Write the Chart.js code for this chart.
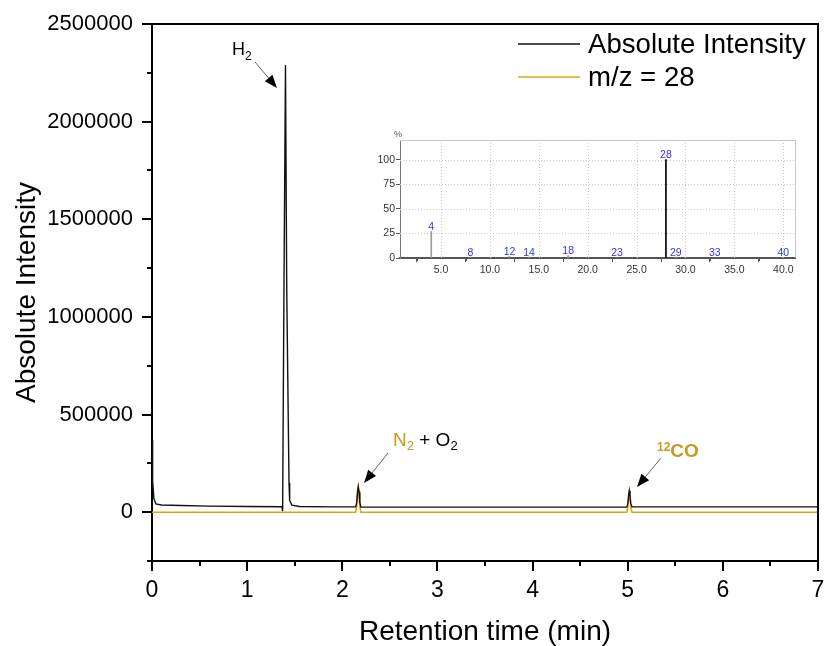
<!DOCTYPE html>
<html><head><meta charset="utf-8">
<script src="https://cdn.jsdelivr.net/npm/chart.js@4.4.1/dist/chart.umd.min.js"></script>
<style>
html,body{margin:0;padding:0;background:#fff;}
#wrap{position:relative;width:825px;height:646px;overflow:hidden;}
#main{position:absolute;left:0;top:0;}
#inset{position:absolute;left:370px;top:125px;}
</style></head><body>
<div id="wrap"><canvas id="main" width="825" height="646"></canvas><canvas id="inset" width="430" height="160"></canvas></div>
<script>
const FONT = '"Liberation Sans", Arial, Helvetica, sans-serif';

// ---- Main chromatogram ----
const seriesLabels = ['Absolute Intensity', 'm/z = 28'];
const timeTotal = [0, 0.003, 0.01, 0.02, 0.04, 0.1, 0.3, 0.6, 1.0, 1.365, 1.373, 1.387, 1.403, 1.416, 1.44, 1.447, 1.47, 1.55, 1.9, 2.14, 2.152, 2.16, 2.168, 2.176, 2.184, 2.196, 2.6, 3.5, 4.5, 4.99, 5.002, 5.01, 5.017, 5.024, 5.032, 5.045, 5.5, 6.5, 7.0];
const intensityTotal = [370000, 300000, 160000, 70000, 42000, 37000, 34000, 31000, 29000, 28000, 5000, 1150000, 2290000, 1150000, 150000, 60000, 36000, 29000, 27000, 27000, 50000, 105000, 130000, 105000, 50000, 26000, 26000, 26000, 26000, 26000, 45000, 90000, 110000, 90000, 45000, 27000, 27000, 27000, 27000];
const timeMz28 = [0, 2.14, 2.152, 2.16, 2.168, 2.176, 2.184, 2.196, 4.99, 5.002, 5.01, 5.017, 5.024, 5.032, 5.045, 7.0];
const intensityMz28 = [0, 0, 30000, 95000, 127000, 95000, 30000, 0, 0, 25000, 80000, 105000, 80000, 25000, 0, 0];
const xTickValues = [0, 1, 2, 3, 4, 5, 6, 7];
const yTickValues = [0, 500000, 1000000, 1500000, 2000000, 2500000];

// ---- Inset mass spectrum ----
const msMass = [4, 8, 12, 14, 18, 23, 28, 29, 33, 40];
const msPercent = [27, 1, 1.8, 1, 2.5, 0.5, 100, 1, 0.5, 0.5];
const msXTicks = [5, 10, 15, 20, 25, 30, 35, 40];
const msYTicks = [0, 25, 50, 75, 100];

const BLACK = '#111111';
const GOLD = '#dfa415';
const GOLD_TEXT = '#c89a1c';

function pts(xs, ys) { return xs.map((x, i) => ({ x: x, y: ys[i] })); }

function drawRich(ctx, segs, x, y) {
  let cx = x;
  segs.forEach(s => {
    ctx.font = (s.bold ? 'bold ' : '') + s.size + 'px ' + FONT;
    ctx.fillStyle = s.color;
    ctx.textBaseline = 'alphabetic';
    ctx.textAlign = 'left';
    ctx.fillText(s.text, cx, y + (s.dy || 0));
    cx += ctx.measureText(s.text).width;
  });
}
function drawArrow(ctx, x1, y1, x2, y2) {
  const ang = Math.atan2(y2 - y1, x2 - x1);
  const L = 13, W = 5;
  ctx.save();
  ctx.strokeStyle = '#666';
  ctx.lineWidth = 1;
  ctx.beginPath();
  ctx.moveTo(x1, y1);
  ctx.lineTo(x2 - Math.cos(ang) * L * 0.8, y2 - Math.sin(ang) * L * 0.8);
  ctx.stroke();
  ctx.fillStyle = '#000';
  ctx.beginPath();
  ctx.moveTo(x2, y2);
  ctx.lineTo(x2 - Math.cos(ang) * L - Math.sin(ang) * W, y2 - Math.sin(ang) * L + Math.cos(ang) * W);
  ctx.lineTo(x2 - Math.cos(ang) * L + Math.sin(ang) * W, y2 - Math.sin(ang) * L - Math.cos(ang) * W);
  ctx.closePath();
  ctx.fill();
  ctx.restore();
}

const mainDecor = {
  id: 'mainDecor',
  afterDraw(chart) {
    const ctx = chart.ctx, a = chart.chartArea;
    const xs = chart.scales.x, ys = chart.scales.y;
    ctx.save();
    ctx.strokeStyle = '#000';
    ctx.lineWidth = 2;
    ctx.beginPath();
    ctx.moveTo(a.left, a.top); ctx.lineTo(a.right, a.top); ctx.lineTo(a.right, a.bottom);
    ctx.stroke();
    ctx.lineWidth = 2;
    ctx.beginPath();
    for (let i = 0; i < xTickValues.length - 1; i++) {
      const px = Math.round(xs.getPixelForValue((xTickValues[i] + xTickValues[i + 1]) / 2));
      ctx.moveTo(px, a.bottom); ctx.lineTo(px, a.bottom + 5);
    }
    const ystep = yTickValues[1] - yTickValues[0];
    const minors = [];
    for (let i = 0; i < yTickValues.length - 1; i++) minors.push((yTickValues[i] + yTickValues[i + 1]) / 2);
    minors.push(yTickValues[0] - ystep / 2);
    minors.forEach(v => {
      if (v < ys.min || v > ys.max) return;
      const py = Math.round(ys.getPixelForValue(v));
      ctx.moveTo(a.left, py); ctx.lineTo(a.left - 5, py);
    });
    ctx.stroke();

    const ds = chart.data.datasets;
    const rows = [44, 77];
    ds.forEach((d, i) => {
      ctx.strokeStyle = d.borderColor;
      ctx.lineWidth = 1.5;
      ctx.beginPath();
      ctx.moveTo(518, rows[i]); ctx.lineTo(580, rows[i]);
      ctx.stroke();
      ctx.fillStyle = '#000';
      ctx.font = '27.6px ' + FONT;
      ctx.textBaseline = 'middle';
      ctx.textAlign = 'left';
      ctx.fillText(d.label, 588, rows[i] + 1);
    });

    drawRich(ctx, [{ text: 'H', size: 18, color: '#000' }, { text: '2', size: 12, dy: 5, color: '#000' }], 232, 55);
    drawArrow(ctx, 255, 62, 277, 88);
    drawRich(ctx, [{ text: 'N', size: 19, color: GOLD_TEXT }, { text: '2', size: 13, dy: 4, color: GOLD_TEXT },
                   { text: ' + O', size: 19, color: '#000' }, { text: '2', size: 13, dy: 4, color: '#000' }], 393, 446);
    drawArrow(ctx, 388, 453, 364, 483);
    drawRich(ctx, [{ text: '12', size: 12, bold: true, color: GOLD_TEXT, dy: -6 }, { text: 'CO', size: 19, bold: true, color: GOLD_TEXT }], 657, 457);
    drawArrow(ctx, 661, 458, 637, 487);
    ctx.restore();
  }
};

new Chart(document.getElementById('main'), {
  type: 'line',
  data: {
    datasets: [
      { label: seriesLabels[0], data: pts(timeTotal, intensityTotal), borderColor: BLACK, borderWidth: 1.4, pointRadius: 0, fill: false, tension: 0 },
      { label: seriesLabels[1], data: pts(timeMz28, intensityMz28), borderColor: GOLD, borderWidth: 1.6, pointRadius: 0, fill: false, tension: 0 }
    ]
  },
  options: {
    responsive: false, animation: false,
    layout: { padding: { top: 24, right: 7, left: 0, bottom: 0 } },
    plugins: { legend: { display: false }, tooltip: { enabled: false } },
    scales: {
      x: {
        type: 'linear', min: 0, max: 7,
        afterFit(s) { s.height = 85; s.paddingRight = 0; s.paddingLeft = 0; },
        afterBuildTicks(s) { s.ticks = xTickValues.map(v => ({ value: v })); },
        grid: { display: true, drawOnChartArea: false, drawTicks: true, tickLength: 10, color: '#000', lineWidth: 2 },
        border: { display: true, color: '#000', width: 2 },
        ticks: { font: { family: FONT, size: 23 }, color: '#000', padding: 6, maxRotation: 0, callback: v => String(v) },
        title: { display: true, text: 'Retention time (min)', font: { family: FONT, size: 28, lineHeight: 1 }, color: '#000', padding: { top: 0, bottom: 0 } }
      },
      y: {
        type: 'linear', min: -250000, max: 2500000,
        afterFit(s) { s.width = 152; s.paddingTop = 0; s.paddingBottom = 0; },
        afterBuildTicks(s) { s.ticks = yTickValues.map(v => ({ value: v })); },
        grid: { display: true, drawOnChartArea: false, drawTicks: true, tickLength: 10, color: '#000', lineWidth: 2 },
        border: { display: true, color: '#000', width: 2 },
        ticks: { font: { family: FONT, size: 22 }, color: '#000', padding: 9, callback: v => String(v) },
        title: { display: true, text: 'Absolute Intensity', font: { family: FONT, size: 28, lineHeight: 1 }, color: '#000', padding: { top: 13, bottom: 0 } }
      }
    }
  },
  plugins: [mainDecor]
});

const insetDecor = {
  id: 'insetDecor',
  beforeDatasetsDraw(chart) {
    const ctx = chart.ctx, a = chart.chartArea;
    const xs = chart.scales.x, ys = chart.scales.y;
    ctx.save();
    ctx.strokeStyle = '#c8c8c8';
    ctx.lineWidth = 1;
    ctx.setLineDash([1, 2]);
    ctx.beginPath();
    msXTicks.forEach(v => { const p = Math.round(xs.getPixelForValue(v)) + 0.5; ctx.moveTo(p, a.top); ctx.lineTo(p, a.bottom); });
    msYTicks.forEach(v => { if (v === 0) return; const p = Math.round(ys.getPixelForValue(v)) + 0.5; ctx.moveTo(a.left, p); ctx.lineTo(a.right, p); });
    ctx.stroke();
    ctx.setLineDash([]);
    ctx.strokeStyle = '#c8c8c8';
    ctx.beginPath();
    ctx.moveTo(a.left, a.top + 0.5); ctx.lineTo(a.right + 0.5, a.top + 0.5); ctx.lineTo(a.right + 0.5, a.bottom);
    ctx.stroke();
    ctx.restore();
  },
  afterDraw(chart) {
    const ctx = chart.ctx, a = chart.chartArea;
    const xs = chart.scales.x;
    ctx.save();
    ctx.strokeStyle = '#555';
    ctx.lineWidth = 1;
    ctx.beginPath();
    for (let v = 2.5; v < 41; v += 5) {
      const p = Math.round(xs.getPixelForValue(v)) + 0.5;
      ctx.moveTo(p, a.bottom); ctx.lineTo(p, a.bottom + 3);
    }
    ctx.stroke();
    ctx.fillStyle = '#555';
    ctx.font = '9px ' + FONT;
    ctx.textAlign = 'center';
    ctx.textBaseline = 'middle';
    ctx.fillText('%', a.left - 2, a.top - 5);
    const meta = chart.getDatasetMeta(0);
    ctx.fillStyle = '#3434e8';
    ctx.font = '10.5px ' + FONT;
    ctx.textBaseline = 'bottom';
    meta.data.forEach((el, i) => {
      ctx.fillText(String(msMass[i]), el.x, el.y + 1);
    });
    ctx.restore();
  }
};

new Chart(document.getElementById('inset'), {
  type: 'bar',
  data: {
    datasets: [{
      data: pts(msMass, msPercent),
      backgroundColor: msMass.map(m => m === 28 ? '#000' : '#9a9a9a'),
      barThickness: 1, borderWidth: 0
    }]
  },
  options: {
    responsive: false, animation: false,
    layout: { padding: { top: 15, right: 5, left: 0, bottom: 0 } },
    plugins: { legend: { display: false }, tooltip: { enabled: false } },
    scales: {
      x: {
        type: 'linear', min: 0.8, max: 41.2, offset: false,
        afterFit(s) { s.height = 27; s.paddingRight = 0; s.paddingLeft = 0; },
        afterBuildTicks(s) { s.ticks = msXTicks.map(v => ({ value: v })); },
        grid: { display: true, drawOnChartArea: false, drawTicks: true, tickLength: 4, color: '#555' },
        border: { display: true, color: '#555', width: 2 },
        ticks: { font: { family: FONT, size: 10.5 }, color: '#333', padding: 2, maxRotation: 0, callback: v => v.toFixed(1) }
      },
      y: {
        type: 'linear', min: 0, max: 120,
        afterFit(s) { s.width = 30; s.paddingTop = 0; s.paddingBottom = 0; },
        afterBuildTicks(s) { s.ticks = msYTicks.map(v => ({ value: v })); },
        grid: { display: true, drawOnChartArea: false, drawTicks: true, tickLength: 4, color: '#555' },
        border: { display: true, color: '#777', width: 1 },
        ticks: { font: { family: FONT, size: 10.5 }, color: '#333', padding: 1, callback: v => String(v) }
      }
    }
  },
  plugins: [insetDecor]
});
</script>
</body></html>
